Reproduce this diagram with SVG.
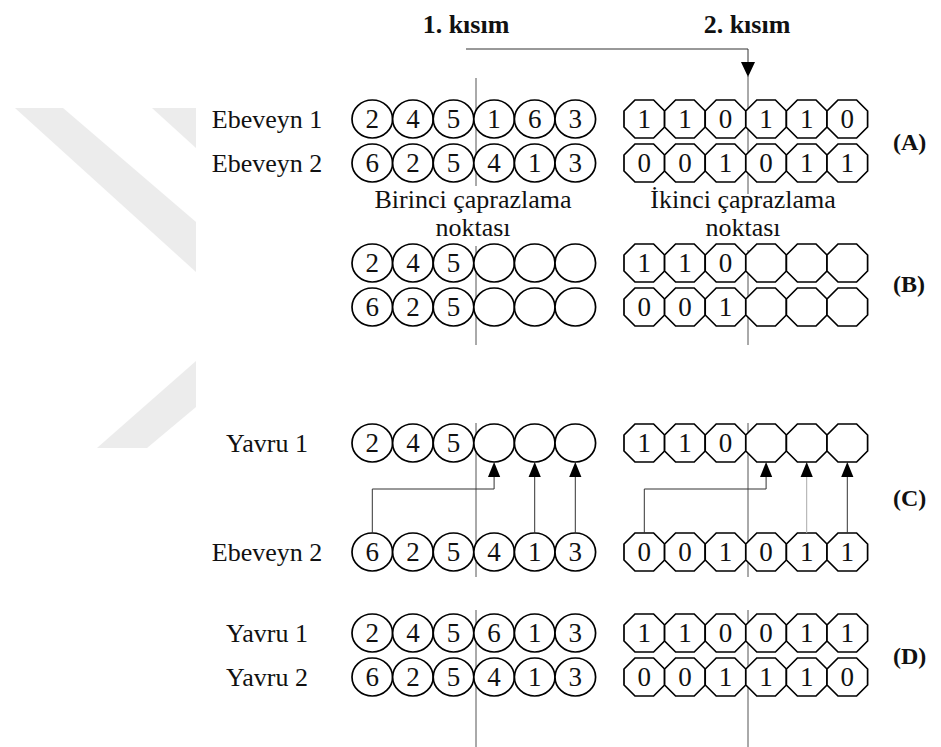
<svg xmlns="http://www.w3.org/2000/svg" xmlns:xlink="http://www.w3.org/1999/xlink" width="941" height="747" viewBox="0 0 941 747">
  <style>
    .lbl { font-family: "Liberation Serif", "Times New Roman", serif; font-size: 26px; fill: #111; }
    .ttl { font-family: "Liberation Serif", "Times New Roman", serif; font-size: 26px; font-weight: bold; fill: #111; }
    .tag { font-family: "Liberation Serif", "Times New Roman", serif; font-size: 24px; font-weight: bold; fill: #111; }
    .dig { font-family: "Liberation Serif", "Times New Roman", serif; font-size: 27px; fill: #111; text-anchor: middle; }
    .cell { fill: #fff; stroke: #000; stroke-width: 1.7; }
    .cut { stroke: #555; stroke-width: 1; fill: none; }
    .link { stroke: #333; stroke-width: 1; fill: none; }
    .link.light { stroke: #aaa; }
    .head { fill: #000; }
    .mark { fill: #ececec; }
  </style>
  <defs>
    <!-- cells: ellipse for permutation genes, octagon for binary genes -->
    <ellipse id="c" cx="0" cy="0" rx="20.3" ry="19" class="cell"/>
    <path id="o" d="M-9.3,-19 H9.3 L20.3,-8 V8 L9.3,19 H-9.3 L-20.3,8 V-8 Z" class="cell"/>
  </defs>

  <!-- background logo mark -->
  <g id="mark">
    <polygon class="mark" points="15,108 63,108 196,222 196,272"/>
    <polygon class="mark" points="152,108 196,108 196,148"/>
    <polygon class="mark" points="196,361 196,407 147,448 97,448"/>
  </g>

  <!-- headings -->
  <g id="headings">
    <text class="ttl" x="466" y="33" text-anchor="middle">1. kısım</text>
    <text class="ttl" x="747" y="33" text-anchor="middle">2. kısım</text>
  </g>

  <!-- crossover cut lines -->
  <g id="cuts">
    <line class="cut" x1="476" y1="78" x2="476" y2="186"/>
    <line class="cut" x1="748" y1="76" x2="748" y2="194"/>
    <line class="cut" x1="476" y1="246" x2="476" y2="345"/>
    <line class="cut" x1="748" y1="250" x2="748" y2="345"/>
    <line class="cut" x1="476" y1="423" x2="476" y2="577"/>
    <line class="cut" x1="748" y1="423" x2="748" y2="577"/>
    <line class="cut" x1="476" y1="610" x2="476" y2="747"/>
    <line class="cut" x1="748" y1="610" x2="748" y2="747"/>
  </g>

  <!-- row labels -->
  <g id="labels">
    <text class="lbl" x="267" y="128" text-anchor="middle">Ebeveyn 1</text>
    <text class="lbl" x="267" y="172" text-anchor="middle">Ebeveyn 2</text>
    <text class="lbl" x="267" y="452" text-anchor="middle">Yavru 1</text>
    <text class="lbl" x="267" y="561" text-anchor="middle">Ebeveyn 2</text>
    <text class="lbl" x="267" y="642" text-anchor="middle">Yavru 1</text>
    <text class="lbl" x="267" y="686" text-anchor="middle">Yavru 2</text>
    <text class="lbl" x="473" y="208" text-anchor="middle">Birinci çaprazlama</text>
    <text class="lbl" x="473" y="236" text-anchor="middle">noktası</text>
    <text class="lbl" x="743" y="208" text-anchor="middle">İkinci çaprazlama</text>
    <text class="lbl" x="743" y="236" text-anchor="middle">noktası</text>
    <text class="tag" x="893" y="150">(A)</text>
    <text class="tag" x="893" y="292">(B)</text>
    <text class="tag" x="893" y="506">(C)</text>
    <text class="tag" x="893" y="664">(D)</text>
  </g>

  <!-- step A: parents -->
  <g id="a-p1-perm" transform="translate(0,119)">
    <use xlink:href="#c" x="372.3"/><use xlink:href="#c" x="412.9"/><use xlink:href="#c" x="453.5"/><use xlink:href="#c" x="494.1"/><use xlink:href="#c" x="534.7"/><use xlink:href="#c" x="575.3"/>
    <text class="dig" x="372.3" y="9">2</text><text class="dig" x="412.9" y="9">4</text><text class="dig" x="453.5" y="9">5</text><text class="dig" x="494.1" y="9">1</text><text class="dig" x="534.7" y="9">6</text><text class="dig" x="575.3" y="9">3</text>
  </g>
  <g id="a-p1-bin" transform="translate(0,119)">
    <use xlink:href="#o" x="644.3"/><use xlink:href="#o" x="684.9"/><use xlink:href="#o" x="725.5"/><use xlink:href="#o" x="766.1"/><use xlink:href="#o" x="806.7"/><use xlink:href="#o" x="847.3"/>
    <text class="dig" x="644.3" y="9">1</text><text class="dig" x="684.9" y="9">1</text><text class="dig" x="725.5" y="9">0</text><text class="dig" x="766.1" y="9">1</text><text class="dig" x="806.7" y="9">1</text><text class="dig" x="847.3" y="9">0</text>
  </g>
  <g id="a-p2-perm" transform="translate(0,163)">
    <use xlink:href="#c" x="372.3"/><use xlink:href="#c" x="412.9"/><use xlink:href="#c" x="453.5"/><use xlink:href="#c" x="494.1"/><use xlink:href="#c" x="534.7"/><use xlink:href="#c" x="575.3"/>
    <text class="dig" x="372.3" y="9">6</text><text class="dig" x="412.9" y="9">2</text><text class="dig" x="453.5" y="9">5</text><text class="dig" x="494.1" y="9">4</text><text class="dig" x="534.7" y="9">1</text><text class="dig" x="575.3" y="9">3</text>
  </g>
  <g id="a-p2-bin" transform="translate(0,163)">
    <use xlink:href="#o" x="644.3"/><use xlink:href="#o" x="684.9"/><use xlink:href="#o" x="725.5"/><use xlink:href="#o" x="766.1"/><use xlink:href="#o" x="806.7"/><use xlink:href="#o" x="847.3"/>
    <text class="dig" x="644.3" y="9">0</text><text class="dig" x="684.9" y="9">0</text><text class="dig" x="725.5" y="9">1</text><text class="dig" x="766.1" y="9">0</text><text class="dig" x="806.7" y="9">1</text><text class="dig" x="847.3" y="9">1</text>
  </g>

  <!-- step B: heads kept -->
  <g id="b-c1-perm" transform="translate(0,263)">
    <use xlink:href="#c" x="372.3"/><use xlink:href="#c" x="412.9"/><use xlink:href="#c" x="453.5"/><use xlink:href="#c" x="494.1"/><use xlink:href="#c" x="534.7"/><use xlink:href="#c" x="575.3"/>
    <text class="dig" x="372.3" y="9">2</text><text class="dig" x="412.9" y="9">4</text><text class="dig" x="453.5" y="9">5</text>
  </g>
  <g id="b-c1-bin" transform="translate(0,263)">
    <use xlink:href="#o" x="644.3"/><use xlink:href="#o" x="684.9"/><use xlink:href="#o" x="725.5"/><use xlink:href="#o" x="766.1"/><use xlink:href="#o" x="806.7"/><use xlink:href="#o" x="847.3"/>
    <text class="dig" x="644.3" y="9">1</text><text class="dig" x="684.9" y="9">1</text><text class="dig" x="725.5" y="9">0</text>
  </g>
  <g id="b-c2-perm" transform="translate(0,307)">
    <use xlink:href="#c" x="372.3"/><use xlink:href="#c" x="412.9"/><use xlink:href="#c" x="453.5"/><use xlink:href="#c" x="494.1"/><use xlink:href="#c" x="534.7"/><use xlink:href="#c" x="575.3"/>
    <text class="dig" x="372.3" y="9">6</text><text class="dig" x="412.9" y="9">2</text><text class="dig" x="453.5" y="9">5</text>
  </g>
  <g id="b-c2-bin" transform="translate(0,307)">
    <use xlink:href="#o" x="644.3"/><use xlink:href="#o" x="684.9"/><use xlink:href="#o" x="725.5"/><use xlink:href="#o" x="766.1"/><use xlink:href="#o" x="806.7"/><use xlink:href="#o" x="847.3"/>
    <text class="dig" x="644.3" y="9">0</text><text class="dig" x="684.9" y="9">0</text><text class="dig" x="725.5" y="9">1</text>
  </g>

  <!-- step C: tails filled from the other parent -->
  <g id="c-child-perm" transform="translate(0,443)">
    <use xlink:href="#c" x="372.3"/><use xlink:href="#c" x="412.9"/><use xlink:href="#c" x="453.5"/><use xlink:href="#c" x="494.1"/><use xlink:href="#c" x="534.7"/><use xlink:href="#c" x="575.3"/>
    <text class="dig" x="372.3" y="9">2</text><text class="dig" x="412.9" y="9">4</text><text class="dig" x="453.5" y="9">5</text>
  </g>
  <g id="c-child-bin" transform="translate(0,443)">
    <use xlink:href="#o" x="644.3"/><use xlink:href="#o" x="684.9"/><use xlink:href="#o" x="725.5"/><use xlink:href="#o" x="766.1"/><use xlink:href="#o" x="806.7"/><use xlink:href="#o" x="847.3"/>
    <text class="dig" x="644.3" y="9">1</text><text class="dig" x="684.9" y="9">1</text><text class="dig" x="725.5" y="9">0</text>
  </g>
  <g id="c-parent-perm" transform="translate(0,552)">
    <use xlink:href="#c" x="372.3"/><use xlink:href="#c" x="412.9"/><use xlink:href="#c" x="453.5"/><use xlink:href="#c" x="494.1"/><use xlink:href="#c" x="534.7"/><use xlink:href="#c" x="575.3"/>
    <text class="dig" x="372.3" y="9">6</text><text class="dig" x="412.9" y="9">2</text><text class="dig" x="453.5" y="9">5</text><text class="dig" x="494.1" y="9">4</text><text class="dig" x="534.7" y="9">1</text><text class="dig" x="575.3" y="9">3</text>
  </g>
  <g id="c-parent-bin" transform="translate(0,552)">
    <use xlink:href="#o" x="644.3"/><use xlink:href="#o" x="684.9"/><use xlink:href="#o" x="725.5"/><use xlink:href="#o" x="766.1"/><use xlink:href="#o" x="806.7"/><use xlink:href="#o" x="847.3"/>
    <text class="dig" x="644.3" y="9">0</text><text class="dig" x="684.9" y="9">0</text><text class="dig" x="725.5" y="9">1</text><text class="dig" x="766.1" y="9">0</text><text class="dig" x="806.7" y="9">1</text><text class="dig" x="847.3" y="9">1</text>
  </g>

  <!-- step D: offspring -->
  <g id="d-c1-perm" transform="translate(0,633)">
    <use xlink:href="#c" x="372.3"/><use xlink:href="#c" x="412.9"/><use xlink:href="#c" x="453.5"/><use xlink:href="#c" x="494.1"/><use xlink:href="#c" x="534.7"/><use xlink:href="#c" x="575.3"/>
    <text class="dig" x="372.3" y="9">2</text><text class="dig" x="412.9" y="9">4</text><text class="dig" x="453.5" y="9">5</text><text class="dig" x="494.1" y="9">6</text><text class="dig" x="534.7" y="9">1</text><text class="dig" x="575.3" y="9">3</text>
  </g>
  <g id="d-c1-bin" transform="translate(0,633)">
    <use xlink:href="#o" x="644.3"/><use xlink:href="#o" x="684.9"/><use xlink:href="#o" x="725.5"/><use xlink:href="#o" x="766.1"/><use xlink:href="#o" x="806.7"/><use xlink:href="#o" x="847.3"/>
    <text class="dig" x="644.3" y="9">1</text><text class="dig" x="684.9" y="9">1</text><text class="dig" x="725.5" y="9">0</text><text class="dig" x="766.1" y="9">0</text><text class="dig" x="806.7" y="9">1</text><text class="dig" x="847.3" y="9">1</text>
  </g>
  <g id="d-c2-perm" transform="translate(0,677)">
    <use xlink:href="#c" x="372.3"/><use xlink:href="#c" x="412.9"/><use xlink:href="#c" x="453.5"/><use xlink:href="#c" x="494.1"/><use xlink:href="#c" x="534.7"/><use xlink:href="#c" x="575.3"/>
    <text class="dig" x="372.3" y="9">6</text><text class="dig" x="412.9" y="9">2</text><text class="dig" x="453.5" y="9">5</text><text class="dig" x="494.1" y="9">4</text><text class="dig" x="534.7" y="9">1</text><text class="dig" x="575.3" y="9">3</text>
  </g>
  <g id="d-c2-bin" transform="translate(0,677)">
    <use xlink:href="#o" x="644.3"/><use xlink:href="#o" x="684.9"/><use xlink:href="#o" x="725.5"/><use xlink:href="#o" x="766.1"/><use xlink:href="#o" x="806.7"/><use xlink:href="#o" x="847.3"/>
    <text class="dig" x="644.3" y="9">0</text><text class="dig" x="684.9" y="9">0</text><text class="dig" x="725.5" y="9">1</text><text class="dig" x="766.1" y="9">1</text><text class="dig" x="806.7" y="9">1</text><text class="dig" x="847.3" y="9">0</text>
  </g>

  <!-- connectors -->
  <g id="connectors">
    <path class="link" d="M466,49 H748 V62"/>
    <polygon class="head" points="741,62 755,62 748,77"/>

    <path class="link" d="M372.3,533 V489 H494.1 V476"/>
    <polygon class="head" points="488,477 500.2,477 494.1,462"/>
    <path class="link" d="M534.7,533 V476"/>
    <polygon class="head" points="528.6,477 540.8,477 534.7,462"/>
    <path class="link" d="M575.3,533 V476"/>
    <polygon class="head" points="569.2,477 581.4,477 575.3,462"/>

    <path class="link" d="M644.3,533 V489 H766.1 V476"/>
    <polygon class="head" points="760,477 772.2,477 766.1,462"/>
    <path class="link light" d="M806.7,533 V476"/>
    <polygon class="head" points="800.6,477 812.8,477 806.7,462"/>
    <path class="link" d="M847.3,533 V476"/>
    <polygon class="head" points="841.2,477 853.4,477 847.3,462"/>
  </g>
</svg>
